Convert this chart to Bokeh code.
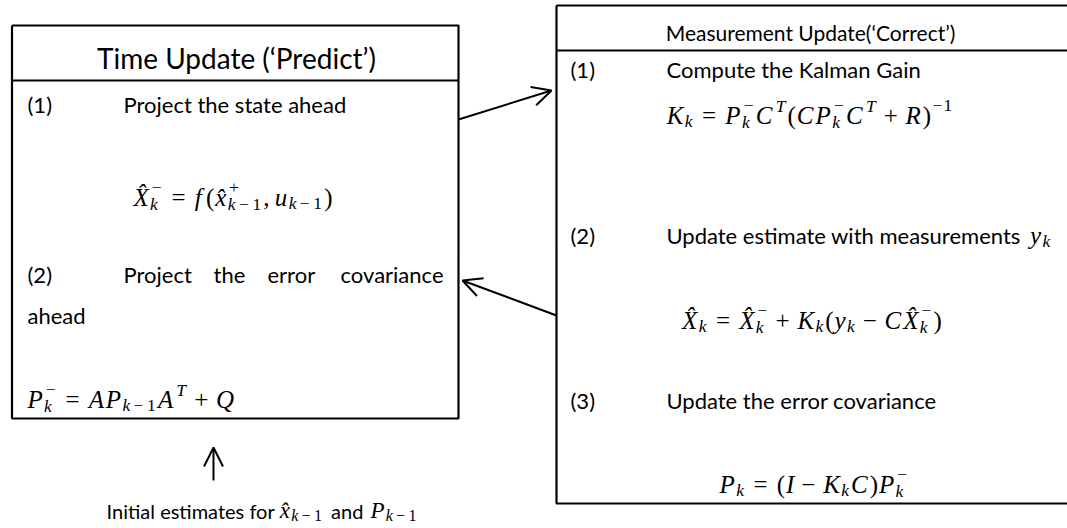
from bokeh.plotting import figure
from bokeh.models import Range1d, ColumnDataSource, Arrow, OpenHead
from bokeh.embed import file_html
from bokeh.resources import INLINE
from bokeh.core.properties import value, field

HAT = "\u0302"
MINUS = "\u2212"

# ---------------- texts ----------------
left_title = "Time Update (\u2018Predict\u2019)"
right_title = "Measurement Update(\u2018Correct\u2019)"
left_nums = ["(1)", "(2)"]
left_text1 = "Project the state ahead"
left_text2_words = ["Project", "the", "error", "covariance"]
left_text2_wrap = "ahead"
right_nums = ["(1)", "(2)", "(3)"]
right_texts = ["Compute the Kalman Gain", "Update estimate with measurements", "Update the error covariance"]
init_words = ["Initial estimates for", "and"]

# formulas: (base, subscript, superscript)
N = None
eq_state = [("X" + HAT, "k", MINUS), ("=", N, N), ("f", N, N), ("(", N, N),
            ("x" + HAT, "k" + MINUS + "1", "+"), (",", N, N), ("u", "k" + MINUS + "1", N), (")", N, N)]
eq_cov = [("P", "k", MINUS), ("=", N, N), ("A", N, N), ("P", "k" + MINUS + "1", N),
          ("A", N, "T"), ("+", N, N), ("Q", N, N)]
eq_gain = [("K", "k", N), ("=", N, N), ("P", "k", MINUS), ("C", N, "T"), ("(", N, N), ("C", N, N),
           ("P", "k", MINUS), ("C", N, "T"), ("+", N, N), ("R", N, N), (")", N, MINUS + "1")]
eq_update = [("X" + HAT, "k", N), ("=", N, N), ("X" + HAT, "k", MINUS), ("+", N, N), ("K", "k", N),
             ("(", N, N), ("y", "k", N), (MINUS, N, N), ("C", N, N), ("X" + HAT, "k", MINUS), (")", N, N)]
eq_pcov = [("P", "k", N), ("=", N, N), ("(", N, N), ("I", N, N), (MINUS, N, N), ("K", "k", N),
           ("C", N, N), (")", N, N), ("P", "k", MINUS)]
sym_meas = [("y", "k", N)]
sym_init1 = [("x" + HAT, "k" + MINUS + "1", N)]
sym_init2 = [("P", "k" + MINUS + "1", N)]

# ---------------- metrics ----------------
IT = {'A': .611, 'C': .667, 'I': .333, 'K': .667, 'P': .611, 'Q': .722, 'R': .611, 'T': .556,
      'X': .611, 'f': .278, 'k': .444, 'u': .5, 'x': .444, 'y': .444}
RM = {'(': .333, ')': .333, '=': .564, '+': .564, MINUS: .564, '1': .5, ',': .25, ' ': .25, 'T': .611}
LATO = {'a': .49, 'c': .46, 'd': .56, 'e': .51, 'f': .32, 'h': .56, 'i': .23, 'l': .23, 'm': .84,
        'n': .56, 'o': .56, 'r': .37, 's': .42, 't': .35, ' ': .26, 'I': .27, 'w': .75, 'u': .56,
        'p': .56, 'v': .49, 'U': .68}
ADV = 1.12  # wider advance, closer to Cambria Math proportions


def mw(s, italic):
    tot = 0
    for c in s:
        if c == HAT:
            continue
        tot += (IT.get(c, .5) if italic else RM.get(c, .5))
    return tot * ADV


def lato_w(s):
    return sum(LATO.get(c, .5) for c in s)


def layout(tokens, S):
    pieces = []  # (dx, dy, text, size, italic)
    x = 0.0
    s2 = 0.7 * S
    for base, sub, sup in tokens:
        italic = base[0].isalpha()
        if base == "=":
            x += 0.3 * S
            pieces.append((x, 0, base, S, False))
            x += mw(base, False) * S + 0.3 * S
        elif base in ("+", MINUS):
            x += 0.24 * S
            pieces.append((x, 0, base, S, False))
            x += mw(base, False) * S + 0.24 * S
        elif base == ",":
            pieces.append((x, 0, base, S, False))
            x += mw(",", False) * S + 0.18 * S
        else:
            pieces.append((x, 0, base, S, italic))
            x += mw(base, italic) * S
            if base == "f":
                x += 0.14 * S
        ends = [x]
        if sub or sup:
            both = bool(sub and sup)
            for txt, kind in ((sub, "sub"), (sup, "sup")):
                if not txt:
                    continue
                if kind == "sub":
                    dy = 0.27 * S if both else 0.22 * S
                    xx = x - (0.02 * S if italic and base[0].isupper() else 0)
                else:
                    dy = -0.42 * S if both else -0.40 * S
                    xx = x + (0.05 * S if italic else 0.02 * S)
                for i, c in enumerate(txt):
                    op = c in (MINUS, "+")
                    if op and i > 0:
                        xx += 0.14 * s2
                    it = c.isalpha()
                    pieces.append((xx, dy, c, s2, it))
                    xx += mw(c, it) * s2
                    if op and i > 0:
                        xx += 0.14 * s2
                ends.append(xx)
            x = max(ends) + 0.04 * S
    return pieces, x


math_rows = {"x": [], "y": [], "text": [], "size": [], "it": []}


def place(tokens, x0, baseline, S, anchor="left"):
    pieces, w = layout(tokens, S)
    if anchor == "center":
        x0 = x0 - w / 2
    for dx, dy, t, sz, it in pieces:
        math_rows["x"].append(x0 + dx)
        math_rows["y"].append(baseline + dy)
        math_rows["text"].append(t)
        math_rows["size"].append(f"{sz:.1f}px")
        math_rows["it"].append(it)
    return w


# ---------------- figure ----------------
p = figure(width=1067, height=528, x_range=Range1d(0, 1067), y_range=Range1d(528, 0),
           output_backend="svg", toolbar_location=None, min_border=0,
           styles={"position": "absolute", "left": "0px", "top": "0px"})
p.xaxis.visible = False
p.yaxis.visible = False
p.xgrid.visible = False
p.ygrid.visible = False
p.outline_line_color = None
p.background_fill_color = "white"

# boxes
LB = dict(l=11.5, r=458, t=25, h=80, b=418)
RB = dict(l=556, r=1080, t=5, h=50, b=503)
for bx in (LB, RB):
    p.multi_line(xs=[[bx["l"], bx["r"], bx["r"], bx["l"], bx["l"]], [bx["l"], bx["r"]]],
                 ys=[[bx["t"], bx["t"], bx["b"], bx["b"], bx["t"]], [bx["h"], bx["h"]]],
                 line_color="black", line_width=2.2)

# arrows
for (x0, y0, x1, y1) in [(458, 119, 551, 90), (556, 315, 462, 280), (213, 480, 213, 447)]:
    p.add_layout(Arrow(end=OpenHead(size=19, line_width=2, line_color="black"),
                       x_start=x0, y_start=y0, x_end=x1, y_end=y1, line_width=2, line_color="black"))

BODY = 22


def add_text(xs, ys, texts, size, align="left", font="Lato"):
    src = ColumnDataSource(dict(x=xs, y=ys, text=texts))
    p.text(x="x", y="y", text="text", source=src, text_font=value(font),
           text_font_size=value(f"{size}px"), text_align=align, text_baseline="alphabetic",
           text_color="black")


# titles
add_text([236], [57], [left_title], 28, align="center")
add_text([810], [32], [right_title], 21, align="center")

# left box body
add_text([27, 123], [104, 104], [left_nums[0], left_text1], BODY)
add_text([27, 123, 213, 267], [274] * 4, [left_nums[1]] + left_text2_words[:3], BODY)
add_text([443], [274], [left_text2_words[3]], BODY, align="right")
add_text([27], [315], [left_text2_wrap], BODY)

MS = 25
place(eq_state, 233, 197, MS, "center")
place(eq_cov, 27, 399, MS)

# right box body
add_text([570] * 3, [69, 235, 400], right_nums, BODY)
add_text([666] * 3, [69, 235, 400], right_texts, BODY)
place(sym_meas, 666 + lato_w(right_texts[1] + " ") * BODY + 8, 235, MS)
place(eq_gain, 810, 115, MS, "center")
place(eq_update, 812, 320, MS, "center")
place(eq_pcov, 814, 484, MS, "center")

# initial estimates line
IS = 20
IMS = 23
BL = 510
w1 = lato_w(init_words[0] + " ") * IS + 3
wx = layout(sym_init1, IMS)[1]
w2 = lato_w(" " + init_words[1] + " ") * IS + 4
wp = layout(sym_init2, IMS)[1]
total = w1 + wx + w2 + wp
xs0 = 262 - total / 2
add_text([xs0], [BL], [init_words[0]], IS)
place(sym_init1, xs0 + w1, BL, IMS)
add_text([xs0 + w1 + wx + lato_w(" ") * IS + 2], [BL], [init_words[1]], IS)
place(sym_init2, xs0 + w1 + wx + w2, BL, IMS)

# math glyphs
for it_flag, style in ((True, "italic"), (False, "normal")):
    idx = [i for i, v in enumerate(math_rows["it"]) if v == it_flag]
    src = ColumnDataSource({k: [math_rows[k][i] for i in idx] for k in ("x", "y", "text", "size")})
    p.text(x="x", y="y", text="text", source=src, text_font=value("Liberation Serif"),
           text_font_size=field("size"), text_font_style=style, text_align="left",
           text_baseline="alphabetic", text_color="black")

open("out.html", "w").write(file_html(p, INLINE))
